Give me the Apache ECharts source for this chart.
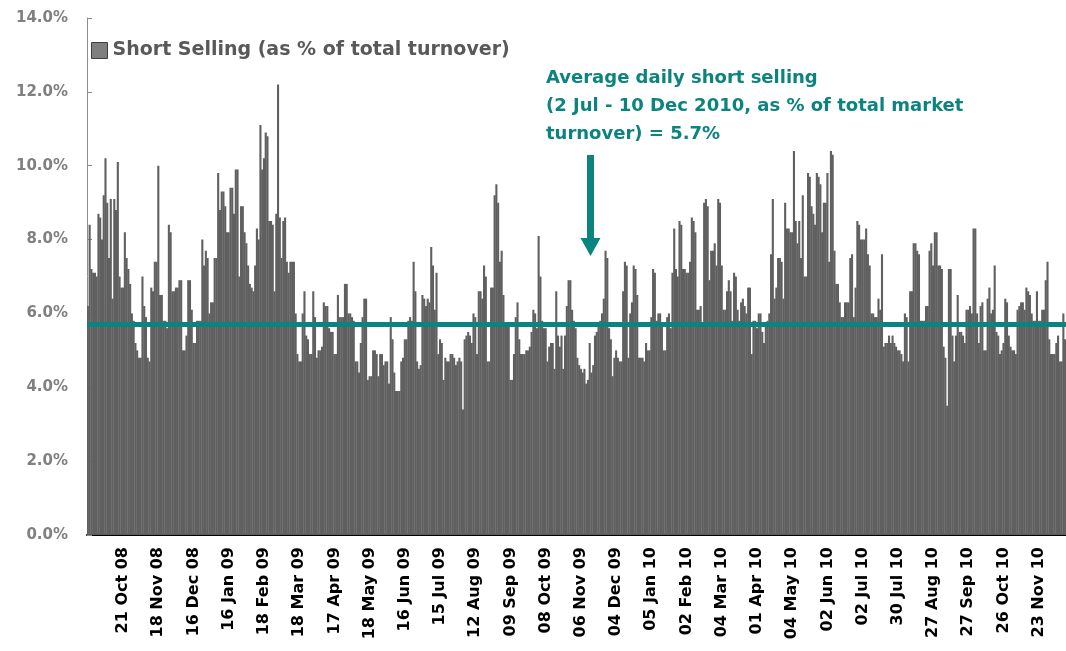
<!DOCTYPE html>
<html>
<head>
<meta charset="utf-8">
<script src="https://cdn.jsdelivr.net/npm/echarts@6/dist/echarts.min.js"></script>
<style>
  html, body { margin: 0; padding: 0; background: #fff; }
  #showChart { width: 1066px; height: 651px; }
</style>
</head>
<body>
<div id="showChart"></div>
<script>
var FONT = 'DejaVu Sans';

// one label every 20 trading days
var labelStep = 20;
var tickLabels = ['21 Oct 08', '18 Nov 08', '16 Dec 08', '16 Jan 09', '18 Feb 09', '18 Mar 09', '17 Apr 09',
    '18 May 09', '16 Jun 09', '15 Jul 09', '12 Aug 09', '09 Sep 09', '08 Oct 09', '06 Nov 09', '04 Dec 09',
    '05 Jan 10', '02 Feb 10', '04 Mar 10', '01 Apr 10', '04 May 10', '02 Jun 10', '02 Jul 10', '30 Jul 10',
    '27 Aug 10', '27 Sep 10', '26 Oct 10', '23 Nov 10'];

// daily short selling, % of total turnover
var shortSelling = [
    6.2, 8.4, 7.2, 7.1, 7.1, 7.0, 8.7, 8.6, 8.0, 9.2,
    10.2, 9.0, 7.5, 9.1, 6.4, 9.1, 8.8, 10.1, 7.0, 6.7,
    6.7, 8.2, 7.5, 7.2, 6.8, 6.0, 5.8, 5.2, 5.0,
    4.8, 4.8, 7.0, 6.2, 5.9, 4.8, 4.7, 6.7, 6.6, 7.4,
    7.4, 10.0, 6.5, 6.5, 5.8, 5.8, 5.6, 8.4, 8.2, 6.6,
    6.6, 6.7, 6.7, 6.9, 6.9, 5.0, 5.0, 5.4, 6.9, 6.9,
    6.1, 5.2, 5.2, 5.8, 5.8, 5.8, 8.0, 7.3, 7.7, 7.5,
    6.0, 6.3, 6.3, 7.5, 7.5, 9.8, 8.8, 9.3, 9.3,
    8.9, 8.2, 8.2, 9.4, 9.4, 8.7, 9.9, 9.9, 7.0, 8.9,
    8.9, 8.2, 7.9, 7.3, 6.8, 6.7, 6.6, 7.3, 8.3, 8.0,
    11.1, 9.9, 10.2, 10.9, 10.8, 8.5, 8.5, 8.4, 6.6, 8.7,
    12.2, 8.6, 7.5, 8.5, 8.6, 7.4, 7.1, 7.4, 7.4, 7.4,
    6.0, 4.9, 4.7, 4.7, 6.0, 6.6, 5.4, 5.3, 4.9,
    4.9, 6.6, 5.9, 4.8, 5.0, 5.0, 5.1, 6.3, 6.2, 6.2,
    5.6, 5.5, 5.5, 4.9, 4.9, 6.5, 5.9, 5.9, 5.9, 6.8,
    6.8, 6.0, 6.0, 5.9, 5.8, 4.7, 4.7, 4.4, 5.2, 5.9,
    6.4, 6.4, 4.2, 4.3, 4.3, 5.0, 5.0, 4.9, 4.3, 4.9,
    4.9, 4.6, 4.7, 4.7, 4.1, 5.9, 5.3, 4.4, 3.9,
    3.9, 3.9, 4.7, 4.8, 5.3, 5.3, 5.8, 5.9, 5.8, 7.4,
    6.6, 4.7, 4.5, 4.6, 6.5, 6.4, 6.2, 6.4, 6.3, 7.8,
    7.3, 6.1, 7.1, 4.9, 5.3, 5.2, 4.2, 4.8, 4.7, 4.7,
    4.9, 4.9, 4.8, 4.6, 4.7, 4.8, 4.7, 3.4, 5.3, 5.4,
    5.5, 5.4, 5.2, 6.0, 5.9, 4.9, 6.6, 6.6, 6.4,
    7.3, 7.0, 4.7, 4.7, 6.7, 6.7, 9.2, 9.5, 9.0, 7.4,
    7.7, 6.5, 5.7, 5.7, 5.7, 4.2, 4.2, 4.9, 5.9, 6.3,
    5.3, 4.9, 4.9, 4.9, 5.0, 5.0, 5.1, 5.5, 6.1, 6.0,
    5.6, 8.1, 7.0, 5.8, 5.6, 5.6, 4.7, 5.1, 5.2, 5.2,
    4.5, 6.6, 5.4, 5.1, 5.4, 4.5, 5.4, 6.2, 6.9,
    6.9, 6.1, 5.8, 5.6, 4.8, 4.6, 4.5, 4.4, 4.5, 4.1,
    4.2, 5.2, 4.4, 4.6, 5.4, 5.5, 5.7, 5.8, 6.0, 6.4,
    7.7, 7.5, 5.6, 5.3, 4.3, 4.8, 5.0, 4.8, 4.7, 4.7,
    6.6, 7.4, 7.3, 4.8, 6.0, 6.3, 7.3, 7.2, 6.5, 4.8,
    4.8, 4.8, 4.7, 5.2, 5.0, 5.0, 5.9, 7.2, 7.1,
    5.8, 6.0, 6.0, 5.7, 5.0, 5.0, 5.9, 6.0, 5.6, 7.1,
    8.3, 7.2, 7.0, 8.5, 8.4, 7.2, 7.2, 7.1, 7.1, 7.4,
    8.6, 8.5, 8.2, 6.1, 6.1, 6.2, 5.7, 9.0, 9.1, 8.9,
    6.9, 7.7, 7.7, 7.9, 7.3, 9.1, 9.0, 7.3, 6.1, 6.1,
    6.6, 6.9, 6.6, 5.8, 7.1, 7.0, 6.1, 5.8, 6.3,
    6.4, 6.2, 6.0, 6.7, 6.7, 4.9, 5.8, 5.8, 5.6, 6.0,
    6.0, 5.5, 5.2, 5.7, 5.8, 6.0, 7.6, 9.1, 6.4, 6.7,
    7.5, 7.5, 7.4, 6.4, 9.0, 8.3, 8.3, 8.2, 8.2, 10.4,
    8.5, 7.9, 8.5, 7.5, 9.2, 7.0, 7.0, 9.8, 9.7, 8.9,
    8.7, 8.4, 9.8, 9.7, 9.5, 8.2, 9.0, 9.0, 9.8,
    7.4, 10.4, 10.3, 7.7, 6.8, 6.8, 6.3, 5.9, 5.9, 6.3,
    6.3, 6.3, 7.5, 7.6, 5.9, 6.7, 8.5, 8.4, 8.0, 8.0,
    8.0, 8.3, 7.6, 7.3, 6.0, 6.0, 5.9, 5.9, 6.4, 6.1,
    7.6, 5.1, 5.2, 5.2, 5.4, 5.2, 5.4, 5.2, 5.1, 5.0,
    5.0, 4.9, 4.7, 6.0, 5.9, 4.7, 6.6, 6.6, 7.9, 7.9,
    7.7, 7.6, 5.8, 5.8, 5.8, 6.2, 6.2, 7.7, 7.9,
    7.3, 8.2, 8.2, 7.3, 7.3, 7.2, 5.1, 4.8, 3.5, 7.2,
    7.2, 5.4, 4.7, 5.4, 6.5, 5.5, 5.5, 5.4, 5.2, 6.1,
    6.1, 6.2, 6.0, 8.3, 8.3, 6.0, 5.2, 6.2, 6.3, 5.0,
    5.0, 6.4, 6.7, 6.0, 6.1, 7.3, 5.5, 5.4, 4.9,
    5.0, 5.2, 6.4, 6.3, 5.4, 5.1, 5.0, 5.0, 4.9, 6.1,
    6.2, 6.3, 6.3, 6.1, 6.7, 6.6, 6.5, 6.0, 5.8, 5.8,
    6.6, 5.8, 5.8, 6.1, 6.1, 6.9, 7.4, 5.3, 4.9, 4.9,
    4.9, 5.2, 5.4, 4.7, 4.7, 6.0, 5.3
];

// average 2 Jul - 10 Dec 2010
var averageLevel = 5.7;

var yTicks = [0, 2, 4, 6, 8, 10, 12, 14];

function isLabelDay(i) {
    return i > 0 && i % labelStep === 0 && i / labelStep <= tickLabels.length;
}

// category per trading day, named by its label where one is shown
var days = shortSelling.map(function (v, i) {
    return isLabelDay(i) ? tickLabels[i / labelStep - 1] : 'd' + i;
});

var teal = '#0b837f';

var option1 = {
    animation: false,
    backgroundColor: '#fff',
    textStyle: {fontFamily: FONT},
    grid: {left: 87, right: 0, top: 18, bottom: 116, containLabel: false},
    legend: {
        left: 86,
        top: 36,
        icon: 'rect',
        itemWidth: 16,
        itemHeight: 16,
        itemGap: 5,
        textStyle: {fontFamily: FONT, fontSize: 19, fontWeight: 'bold', color: '#595959'},
        itemStyle: {color: '#7f7f7f', borderColor: '#3f3f3f', borderWidth: 1},
        data: ['Short Selling (as % of total turnover)']
    },
    xAxis: {
        type: 'category',
        data: days,
        boundaryGap: true,
        axisLine: {lineStyle: {color: '#000', width: 2}},
        axisTick: {
            inside: true,
            length: 5,
            interval: function (i) { return i % labelStep === 0; },
            lineStyle: {color: '#000', width: 1}
        },
        axisLabel: {
            interval: function (i) { return isLabelDay(i); },
            rotate: 90,
            margin: 12,
            fontFamily: FONT,
            fontSize: 16,
            fontWeight: 'bold',
            color: '#000'
        },
        splitLine: {show: false}
    },
    yAxis: {
        type: 'value',
        min: yTicks[0],
        max: yTicks[yTicks.length - 1],
        interval: yTicks[1] - yTicks[0],
        axisLine: {show: true, lineStyle: {color: '#8c8c8c', width: 1}},
        axisTick: {show: true, inside: true, length: 5, lineStyle: {color: '#8c8c8c'}},
        axisLabel: {
            margin: 19,
            fontFamily: FONT,
            fontSize: 15,
            fontWeight: 'bold',
            color: '#808080',
            formatter: function (v) { return v.toFixed(1) + '%'; }
        },
        splitLine: {show: false}
    },
    series: [{
        name: 'Short Selling (as % of total turnover)',
        type: 'bar',
        data: shortSelling,
        barWidth: 2.1,
        itemStyle: {color: '#606060'},
        markLine: {
            silent: true,
            symbol: ['none', 'none'],
            label: {show: false},
            lineStyle: {color: teal, width: 5, type: 'solid'},
            data: [{yAxis: averageLevel}]
        }
    }],
    graphic: [
        {
            type: 'text',
            left: 546,
            top: 64,
            style: {
                text: 'Average daily short selling\n(2 Jul - 10 Dec 2010, as % of total market\nturnover) = 5.7%',
                fill: teal,
                font: 'bold 18px "DejaVu Sans"',
                lineHeight: 28
            }
        },
        {type: 'rect', shape: {x: 587, y: 155, width: 7, height: 84}, style: {fill: teal}},
        {type: 'polygon', shape: {points: [[580.5, 238], [600.5, 238], [590.5, 256]]}, style: {fill: teal}}
    ]
};

var chartOutChar = echarts.init(document.getElementById('showChart'));
chartOutChar.setOption(option1);
</script>
</body>
</html>
